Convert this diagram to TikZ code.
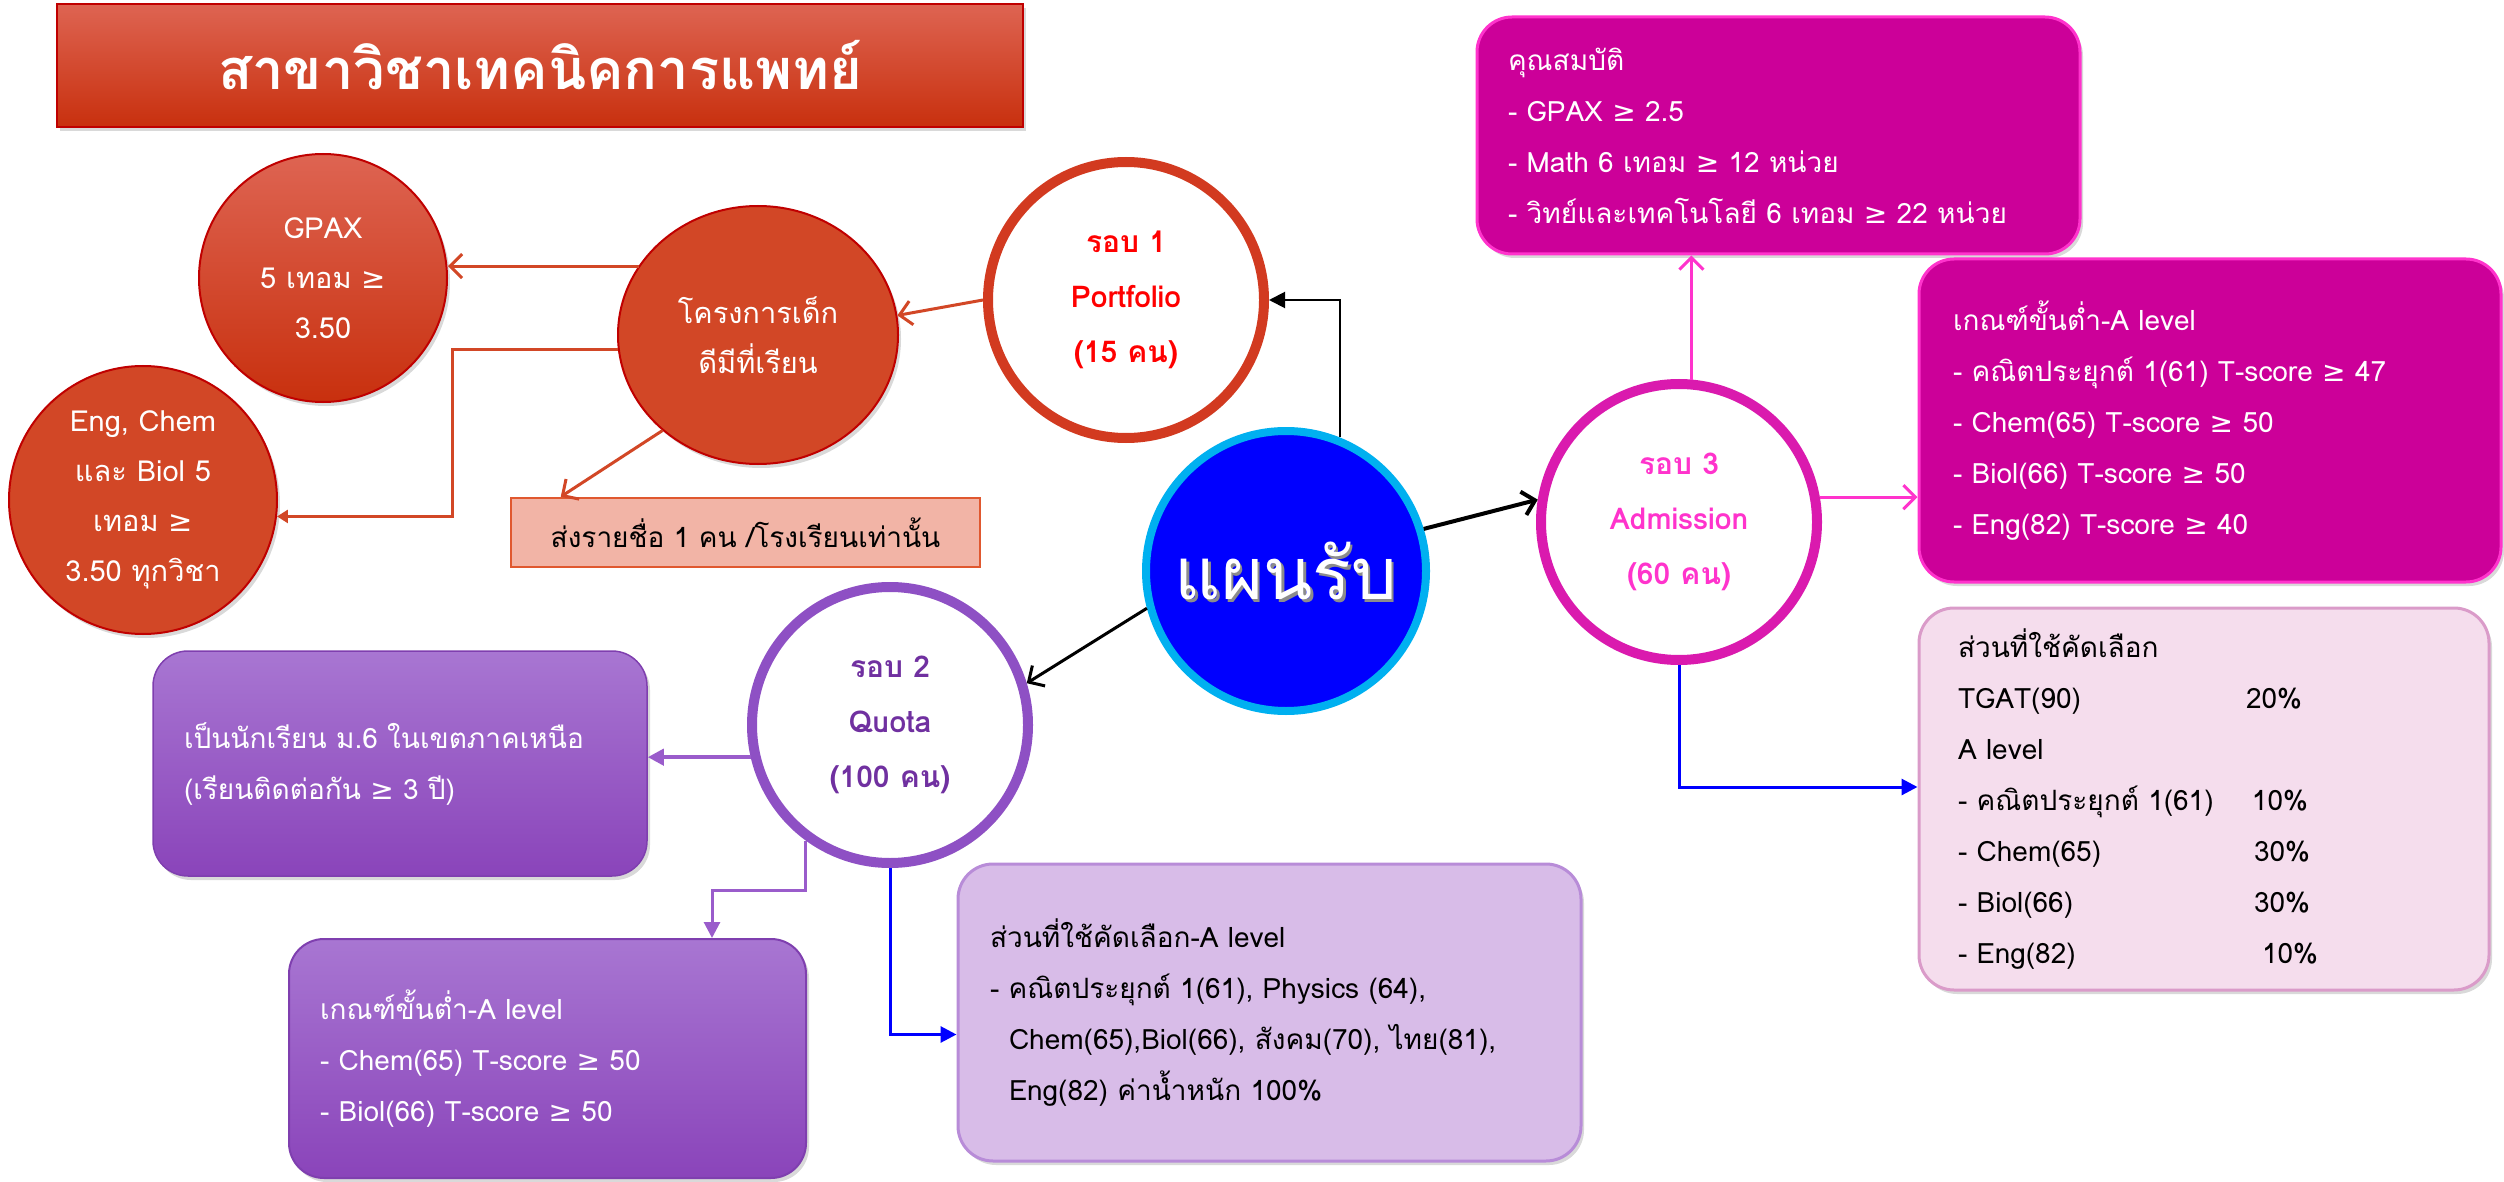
\documentclass[tikz,border=0pt]{standalone}
\usepackage{fontspec}
\setmainfont[Script=Thai]{Loma}
\newfontfamily\djv{DejaVu Sans}
\newcommand\gq{{\djv ≥}}
\usetikzlibrary{arrows.meta,shapes.geometric,shadows}
\definecolor{rflat}{HTML}{D24726}
\definecolor{rdark}{HTML}{C00000}
\definecolor{rtop}{HTML}{DE6452}
\definecolor{rbot}{HTML}{C8300E}
\definecolor{pinkfill}{HTML}{F2B4A6}
\definecolor{pinkline}{HTML}{E0582F}
\definecolor{portline}{HTML}{D23A20}
\definecolor{planblue}{HTML}{0000FF}
\definecolor{plancyan}{HTML}{00B0F0}
\definecolor{qline}{HTML}{8E50C4}
\definecolor{qtext}{HTML}{7030A0}
\definecolor{aline}{HTML}{DA1AAE}
\definecolor{atext}{HTML}{FF33CC}
\definecolor{mfill}{HTML}{CC0099}
\definecolor{mline}{HTML}{FF33CC}
\definecolor{dfill}{HTML}{F5DDED}
\definecolor{dline}{HTML}{DA9BC9}
\definecolor{ptop}{HTML}{A876D2}
\definecolor{pbot}{HTML}{8A44BA}
\definecolor{pline}{HTML}{7F3FAF}
\definecolor{cfill}{HTML}{D8BCE8}
\definecolor{cline}{HTML}{B88CD8}
\definecolor{parrow}{HTML}{9A5CCB}
\definecolor{pureblue}{HTML}{0000FF}
\tikzset{
  shad/.style={drop shadow={opacity=0.3,shadow xshift=3pt,shadow yshift=-4pt}},
  body/.style={font=\fontsize{28}{51}\selectfont},
  circtxt/.style={font=\fontsize{29}{50}\selectfont, text=white},
  roundtxt/.style={font=\bfseries\fontsize{30}{55}\selectfont},
  redcirc/.style={circle, draw=rdark, line width=2pt, inner sep=0pt, align=center, circtxt, shad},
  ringcirc/.style={circle, fill=white, line width=10pt, inner sep=0pt, align=center, roundtxt, shad, minimum size=276pt},
  infobox/.style={rectangle, rounded corners=35pt, align=left, body, inner ysep=0pt, shad},
  oarr/.style={-{Straight Barb[length=12pt,width=24pt]}},
  farr/.style={-{Triangle[length=16pt,width=16pt]}},
  sarr/.style={-{Triangle[length=11pt,width=13pt]}},
}
\begin{document}
\begin{tikzpicture}[x=1pt,y=-1pt]
\useasboundingbox (0,0) rectangle (2504,1182);

% title
\node[rectangle, minimum width=966pt, minimum height=123pt, top color=rtop, bottom color=rbot,
      draw=rdark, line width=2.5pt, text=white, font=\bfseries\fontsize{56}{60}\selectfont, shad]
      (title) at (540,65.5) {สาขาวิชาเทคนิคการแพทย์};

% round 1 branch
\node[redcirc, minimum size=248pt, top color=rtop, bottom color=rbot] (gpax) at (323,278)
      {GPAX\\5 เทอม \gq\\3.50};
\node[redcirc, minimum size=268pt, fill=rflat] (eng) at (143,500)
      {Eng, Chem\\และ Biol 5\\เทอม \gq\\3.50 ทุกวิชา};
\node[ellipse, draw=rdark, line width=2pt, fill=rflat, minimum width=280pt, minimum height=258pt,
      inner sep=0pt, align=center, circtxt, shad] (kr) at (758,335) {โครงการเด็ก\\ดีมีที่เรียน};
\node[rectangle, fill=pinkfill, draw=pinkline, line width=2.5pt, minimum width=469pt,
      minimum height=69pt, body] (pink) at (745.5,532.5) {ส่งรายชื่อ 1 คน /โรงเรียนเท่านั้น};
\node[ringcirc, draw=portline, text=red] (p1) at (1126,300) {รอบ 1\\Portfolio\\(15 คน)};

% centre
\node[circle, fill=planblue, draw=plancyan, line width=8pt, minimum size=280pt, inner sep=0pt,
      text=white, font=\fontsize{72}{80}\selectfont,
      path picture={\node[text=black!45, font=\fontsize{72}{80}\selectfont] (planshade)
        at ([shift={(2.5pt,-2.5pt)}]path picture bounding box.center) {แผนรับ};}]
      (plan) at (1286,571) {แผนรับ};

% rounds 2 and 3
\node[ringcirc, draw=qline, text=qtext] (quota) at (890,725) {รอบ 2\\Quota\\(100 คน)};
\node[ringcirc, draw=aline, text=atext] (adm) at (1679,522) {รอบ 3\\Admission\\(60 คน)};

% info boxes
\node[infobox, fill=mfill, draw=mline, line width=3pt, text=white, minimum height=237pt,
      text width=541pt, inner xsep=31pt] (box1) at (1778.5,135.5)
      {คุณสมบัติ\\- GPAX \gq{} 2.5\\- Math 6 เทอม \gq{} 12 หน่วย\\- วิทย์และเทคโนโลยี 6 เทอม \gq{} 22 หน่วย};
\node[infobox, fill=mfill, draw=mline, line width=3pt, text=white, minimum height=323pt,
      text width=514pt, inner xsep=34pt] (box2) at (2210,420.5)
      {เกณฑ์ขั้นต่ำ-A level\\- คณิตประยุกต์ 1(61) T-score \gq{} 47\\- Chem(65) T-score \gq{} 50\\- Biol(66) T-score \gq{} 50\\- Eng(82) T-score \gq{} 40};
\node[infobox, fill=dfill, draw=dline, line width=3pt, text=black, minimum height=382pt,
      text width=492pt, inner xsep=39pt] (boxD) at (2204,799)
      {ส่วนที่ใช้คัดเลือก\\\makebox[288pt][l]{TGAT(90)}20\%\\A level\\\makebox[294pt][l]{- คณิตประยุกต์ 1(61)}10\%\\\makebox[296pt][l]{- Chem(65)}30\%\\\makebox[296pt][l]{- Biol(66)}30\%\\\makebox[304pt][l]{- Eng(82)}10\%};
\node[infobox, top color=ptop, bottom color=pbot, draw=pline, line width=1.5pt, text=white,
      minimum height=225pt, text width=432pt, inner xsep=31pt] (boxA) at (400,763.5)
      {เป็นนักเรียน ม.6 ในเขตภาคเหนือ\\(เรียนติดต่อกัน \gq{} 3 ปี)};
\node[infobox, top color=ptop, bottom color=pbot, draw=pline, line width=2pt, text=white,
      minimum height=239pt, text width=455pt, inner xsep=31pt] (boxB) at (547.5,1058.5)
      {เกณฑ์ขั้นต่ำ-A level\\- Chem(65) T-score \gq{} 50\\- Biol(66) T-score \gq{} 50};
\node[infobox, fill=cfill, draw=cline, line width=3pt, text=black, minimum height=297pt,
      text width=559pt, inner xsep=32pt] (boxC) at (1269.5,1012.5)
      {ส่วนที่ใช้คัดเลือก-A level\\- คณิตประยุกต์ 1(61), Physics (64),\\\hspace*{19pt}Chem(65),Biol(66), สังคม(70), ไทย(81),\\\hspace*{19pt}Eng(82) ค่าน้ำหนัก 100\%};

% connectors
\coordinate (c1) at (452,350);
\coordinate (c2) at (712,890);
\draw[black, line width=2pt, farr] (plan.68) |- (p1.east);
\draw[black, line width=4pt, oarr] (plan.17) -- (adm.171);
\draw[black, line width=3pt, oarr] (plan.195) -- (quota.17);
\draw[rflat, line width=3pt, oarr] (p1.west) -- (kr.8);
\draw[rflat, line width=3pt, oarr] (kr.150) -- (kr.150 -| gpax.east);
\draw[rflat, line width=3pt, sarr] (kr.186) -- (kr.186 -| c1) |- (eng.-7);
\draw[rflat, line width=3pt, oarr] (kr.225) -- ([xshift=51pt]pink.north west);
\draw[parrow, line width=4pt, farr] (quota.193) -- (quota.193 -| boxA.east);
\draw[parrow, line width=3pt, farr] (quota.234) |- (c2) -- (c2 |- boxB.north);
\draw[pureblue, line width=3pt, farr] (quota.south) |- ([yshift=-22pt]boxC.west);
\draw[mline, line width=3pt, oarr] (adm.85) -- (adm.85 |- box1.south);
\draw[mline, line width=3pt, oarr] (adm.10) -- (adm.10 -| box2.west);
\draw[pureblue, line width=3pt, farr] (adm.south) |- ([yshift=12pt]boxD.west);
\end{tikzpicture}
\end{document}
